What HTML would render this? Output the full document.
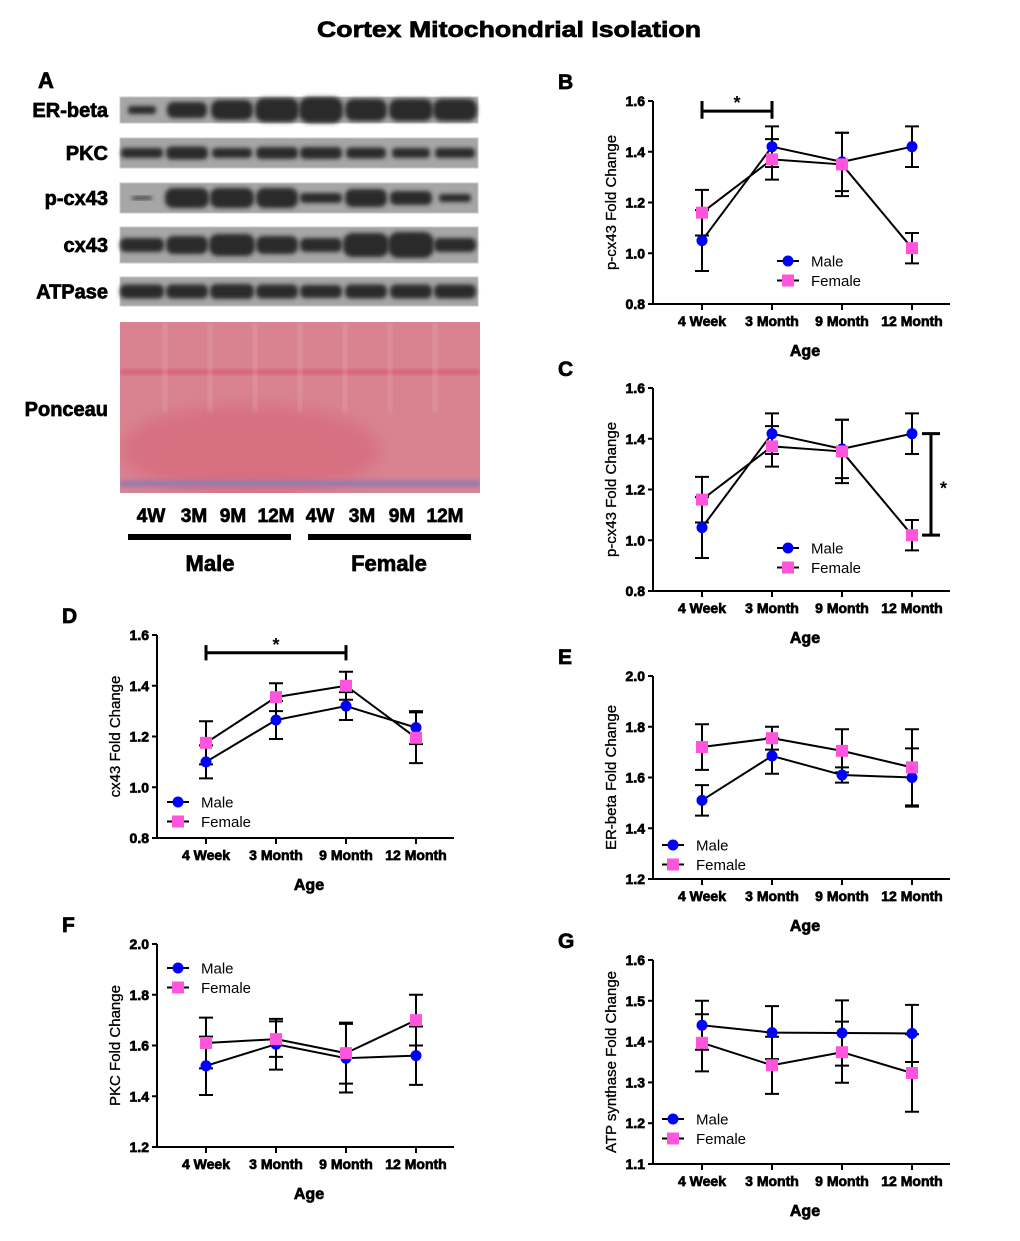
<!DOCTYPE html>
<html><head><meta charset="utf-8"><style>
html,body{margin:0;padding:0;background:#fff;}
body{width:1020px;height:1241px;position:relative;overflow:hidden;font-family:"Liberation Sans",Arial,sans-serif;}
svg{position:absolute;left:0;top:0;}
.heavy{stroke:#000;stroke-width:0.7px;}
</style></head><body>
<svg id="fig" width="1020" height="1241" viewBox="0 0 1020 1241" xmlns="http://www.w3.org/2000/svg">
<defs>
<filter id="blur2" x="-20%" y="-50%" width="140%" height="200%"><feGaussianBlur stdDeviation="2"/></filter>
<filter id="blur6" x="-20%" y="-20%" width="140%" height="140%"><feGaussianBlur stdDeviation="8"/></filter>
<clipPath id="ponclip"><rect x="120" y="322" width="360" height="171"/></clipPath>
</defs>
<text x="509" y="37" text-anchor="middle" font-size="22" font-weight="bold" class="heavy" textLength="384" lengthAdjust="spacingAndGlyphs">Cortex Mitochondrial Isolation</text>
<g id="blot"></g>
<g id="charts"></g>
</svg>
<script>
// ---------- chart data ----------
const categories = ["4 Week","3 Month","9 Month","12 Month"];
const bMale = [1.05, 1.42, 1.36, 1.42];
const bMaleErr = [0.12, 0.08, 0.115, 0.08];
const bFemale = [1.16, 1.37, 1.35, 1.02];
const bFemaleErr = [0.09, 0.08, 0.125, 0.06];
const bTicks = [0.8, 1.0, 1.2, 1.4, 1.6];
const dMale = [1.10, 1.265, 1.32, 1.235];
const dMaleErr = [0.065, 0.075, 0.055, 0.065];
const dFemale = [1.175, 1.355, 1.40, 1.195];
const dFemaleErr = [0.085, 0.055, 0.055, 0.10];
const dTicks = [0.8, 1.0, 1.2, 1.4, 1.6];
const eMale = [1.51, 1.685, 1.61, 1.60];
const eMaleErr = [0.06, 0.07, 0.03, 0.115];
const eFemale = [1.72, 1.755, 1.705, 1.64];
const eFemaleErr = [0.09, 0.045, 0.085, 0.15];
const eTicks = [1.2, 1.4, 1.6, 1.8, 2.0];
const fMale = [1.52, 1.605, 1.55, 1.56];
const fMaleErr = [0.115, 0.10, 0.135, 0.115];
const fFemale = [1.61, 1.625, 1.57, 1.70];
const fFemaleErr = [0.10, 0.07, 0.12, 0.10];
const fTicks = [1.2, 1.4, 1.6, 1.8, 2.0];
const gMale = [1.44, 1.422, 1.421, 1.42];
const gMaleErr = [0.06, 0.065, 0.08, 0.07];
const gFemale = [1.397, 1.342, 1.374, 1.323];
const gFemaleErr = [0.07, 0.07, 0.075, 0.095];
const gTicks = [1.1, 1.2, 1.3, 1.4, 1.5, 1.6];
const seriesNames = ["Male","Female"];

const NS = "http://www.w3.org/2000/svg";
function mk(parent, tag, attrs, txt){
  const e = document.createElementNS(NS, tag);
  for (const k in attrs) e.setAttribute(k, attrs[k]);
  if (txt !== undefined) e.textContent = txt;
  parent.appendChild(e);
  return e;
}

// ---------- western blot ----------
const blot = document.getElementById('blot');
const laneX = [142,187,232,277,321,366,411,455];
const rowNames = ["ER-beta","PKC","p-cx43","cx43","ATPase"];
const rowTop = [97,138,183,227,277];
const rowBot = [123,168,213,263,306];
const bandH = [[8,16,20,24,26,22,22,22],[10,13,10,12,12,11,10,10],[3,20,20,20,10,18,14,8],[14,18,22,18,14,24,26,14],[14,14,15,14,13,14,14,14]];
const bandW = [[28,40,42,44,44,42,44,44],[42,42,40,42,42,40,38,40],[20,44,44,42,42,42,42,32],[44,42,46,42,42,46,46,42],[44,42,44,42,42,42,42,42]];
rowNames.forEach((nm,i)=>{
  const g = mk(blot,'g',{});
  
  
  mk(g,'rect',{x:120,y:rowTop[i],width:358,height:rowBot[i]-rowTop[i],fill:'#a6a6a6',stroke:'#c8c8c8','stroke-width':1});
  const cy = (rowTop[i]+rowBot[i])/2;
  laneX.forEach((lx,j)=>{
    mk(g,'rect',{x:lx-bandW[i][j]/2,y:cy-bandH[i][j]/2,width:bandW[i][j],height:bandH[i][j],rx:bandH[i][j]/2.5,fill:'#2a2a2a',filter:'url(#blur2)'});
  });
  const t = mk(g,'text',{x:108,y:cy+7,'text-anchor':'end','font-size':20,'font-weight':'bold','class':'heavy'},nm);
  
  
});
// Ponceau
const pg = mk(blot,'g',{'clip-path':'url(#ponclip)'});


mk(pg,'rect',{x:120,y:322,width:360,height:171,fill:'#d98390'});
mk(pg,'ellipse',{cx:250,cy:450,rx:130,ry:45,fill:'#d6687c',filter:'url(#blur6)',opacity:0.7});
mk(pg,'rect',{x:120,y:370,width:360,height:4,fill:'#d65070',filter:'url(#blur2)',opacity:0.8});
mk(pg,'rect',{x:120,y:480,width:360,height:7,fill:'#9a7aaa',filter:'url(#blur2)'});
[165,210,255,300,345,390,435].forEach(x=>mk(pg,'rect',{x:x-2,y:322,width:4,height:90,fill:'#e8b0ba',opacity:0.4,filter:'url(#blur2)'}));
const pt = mk(blot,'text',{x:108,y:416,'text-anchor':'end','font-size':20,'font-weight':'bold','class':'heavy'},'Ponceau');


const lanes = ["4W","3M","9M","12M","4W","3M","9M","12M"];
const laneLX = [151,194,233,276,320,362,402,445];
lanes.forEach((l,j)=>{
  const t = mk(blot,'text',{x:laneLX[j],y:522,'text-anchor':'middle','font-size':19,'font-weight':'bold','class':'heavy'},l);
  
  
});
const mb = mk(blot,'rect',{x:128,y:534,width:163,height:6,fill:'#000'});


const fb = mk(blot,'rect',{x:308,y:534,width:163,height:6,fill:'#000'});


const mt = mk(blot,'text',{x:210,y:571,'text-anchor':'middle','font-size':22,'font-weight':'bold','class':'heavy'},'Male');


const ft = mk(blot,'text',{x:389,y:571,'text-anchor':'middle','font-size':22,'font-weight':'bold','class':'heavy'},'Female');


const la = mk(blot,'text',{x:38,y:88,'font-size':22,'font-weight':'bold','class':'heavy'},'A');



// ---------- charts ----------
const charts = document.getElementById('charts');
function chart(o){
  const g = mk(charts,'g',{});
  
  
  const ymin = o.ticks[0], ymax = o.ticks[o.ticks.length-1];
  const y = v => o.bot - (v - ymin) / (ymax - ymin) * (o.bot - o.top);
  const x = i => o.x0 + 49 + i * 70;
  const lbl = mk(g,'text',{x:o.x0-95,y:o.top-12,'font-size':21,'font-weight':'bold','class':'heavy'},o.id.toUpperCase());
  
  
  const ya = mk(g,'line',{x1:o.x0,y1:o.top,x2:o.x0,y2:o.bot+1,stroke:'#000','stroke-width':2});
  
  
  const xa = mk(g,'line',{x1:o.x0-1,y1:o.bot,x2:o.x0+297,y2:o.bot,stroke:'#000','stroke-width':2});
  
  
  o.ticks.forEach(t=>{
    mk(g,'line',{x1:o.x0-5,y1:y(t),x2:o.x0,y2:y(t),stroke:'#000','stroke-width':2});
    const tl = mk(g,'text',{x:o.x0-8,y:y(t)+5,'text-anchor':'end','font-size':14,'font-weight':'bold','class':'heavy'},t.toFixed(1));
    
    
  });
  categories.forEach((c,i)=>{
    mk(g,'line',{x1:x(i),y1:o.bot,x2:x(i),y2:o.bot+6,stroke:'#000','stroke-width':2});
    const tl = mk(g,'text',{x:x(i),y:o.bot+22,'text-anchor':'middle','font-size':14,'font-weight':'bold','class':'heavy'},c);
    
    
  });
  const xt = mk(g,'text',{x:o.x0+152,y:o.bot+52,'text-anchor':'middle','font-size':16,'font-weight':'bold','class':'heavy'},'Age');
  
  
  const yt = mk(g,'text',{x:0,y:0,'text-anchor':'middle','font-size':15,stroke:'#000','stroke-width':0.3,transform:'translate('+(o.x0-37)+','+((o.top+o.bot)/2)+') rotate(-90)'},o.ylabel);
  
  
  const sets = [[o.male,o.maleErr,'#0000ff','circle'],[o.female,o.femaleErr,'#ff55dd','square']];
  sets.forEach(s=>{
    const vals = s[0], err = s[1];
    for (let i=0;i<vals.length-1;i++){
      const seg = mk(g,'line',{x1:x(i),y1:y(vals[i]),x2:x(i+1),y2:y(vals[i+1]),stroke:'#000','stroke-width':2});
      
      
    }
    vals.forEach((v,i)=>{
      const e = mk(g,'path',{d:'M'+x(i)+' '+y(v-err[i])+'V'+y(v+err[i])+'M'+(x(i)-7)+' '+y(v-err[i])+'h14M'+(x(i)-7)+' '+y(v+err[i])+'h14',stroke:'#000','stroke-width':2,fill:'none'});
      
      
    });
  });
  sets.forEach((s,k)=>{
    s[0].forEach((v,i)=>{
      let m;
      if (s[3]==='circle') m = mk(g,'circle',{cx:x(i),cy:y(v),r:5.5,fill:s[2]});
      else m = mk(g,'rect',{x:x(i)-6,y:y(v)-6,width:12,height:12,fill:s[2]});
      
      
    });
  });
  sets.forEach((s,k)=>{
    const ly = o.legY + k*19.5;
    const lg = mk(g,'g',{});
    
    
    mk(lg,'line',{x1:o.legX-11,y1:ly,x2:o.legX+11,y2:ly,stroke:'#000','stroke-width':2});
    if (s[3]==='circle') mk(lg,'circle',{cx:o.legX,cy:ly,r:5.5,fill:s[2]});
    else mk(lg,'rect',{x:o.legX-6,y:ly-6,width:12,height:12,fill:s[2]});
    mk(lg,'text',{x:o.legX+23,y:ly+5.5,'font-size':15},seriesNames[k]);
  });
  return {g:g,x:x,y:y};
}
function hbracket(c,i1,i2,vLow,vTop,vHigh){
  const p = mk(c.g,'path',{d:'M'+c.x(i1)+' '+c.y(vLow)+'V'+c.y(vHigh)+'M'+c.x(i2)+' '+c.y(vLow)+'V'+c.y(vHigh)+'M'+c.x(i1)+' '+c.y(vTop)+'H'+c.x(i2),stroke:'#000','stroke-width':3,fill:'none'});
  
  
  const s = mk(c.g,'text',{x:(c.x(i1)+c.x(i2))/2,y:c.y(vTop)-2,'text-anchor':'middle','font-size':18,'font-weight':'bold'},'*');
  
  
}
const B = chart({id:'b',x0:653,top:101,bot:304,ticks:bTicks,male:bMale,maleErr:bMaleErr,female:bFemale,femaleErr:bFemaleErr,ylabel:'p-cx43 Fold Change',legX:788,legY:261});
hbracket(B,0,1,1.53,1.56,1.60);
const C = chart({id:'c',x0:653,top:388,bot:591,ticks:bTicks,male:bMale,maleErr:bMaleErr,female:bFemale,femaleErr:bFemaleErr,ylabel:'p-cx43 Fold Change',legX:788,legY:548});
{
  const bx = 931, yt = C.y(bMale[3]), yb = C.y(bFemale[3]);
  const p = mk(C.g,'path',{d:'M'+bx+' '+yt+'V'+yb+'M'+(bx-9)+' '+yt+'h18M'+(bx-9)+' '+yb+'h18',stroke:'#000','stroke-width':3,fill:'none'});
  
  
  const s = mk(C.g,'text',{x:940,y:(yt+yb)/2+10,'font-size':18,'font-weight':'bold'},'*');
  
  
}
const D = chart({id:'d',x0:157,top:635,bot:838,ticks:dTicks,male:dMale,maleErr:dMaleErr,female:dFemale,femaleErr:dFemaleErr,ylabel:'cx43 Fold Change',legX:178,legY:802});
hbracket(D,0,2,1.50,1.53,1.56);
chart({id:'e',x0:653,top:676,bot:879,ticks:eTicks,male:eMale,maleErr:eMaleErr,female:eFemale,femaleErr:eFemaleErr,ylabel:'ER-beta Fold Change',legX:673,legY:845});
chart({id:'f',x0:157,top:944,bot:1147,ticks:fTicks,male:fMale,maleErr:fMaleErr,female:fFemale,femaleErr:fFemaleErr,ylabel:'PKC Fold Change',legX:178,legY:968});
chart({id:'g',x0:653,top:960,bot:1164,ticks:gTicks,male:gMale,maleErr:gMaleErr,female:gFemale,femaleErr:gFemaleErr,ylabel:'ATP synthase Fold Change',legX:673,legY:1119});
</script>
</body></html>
